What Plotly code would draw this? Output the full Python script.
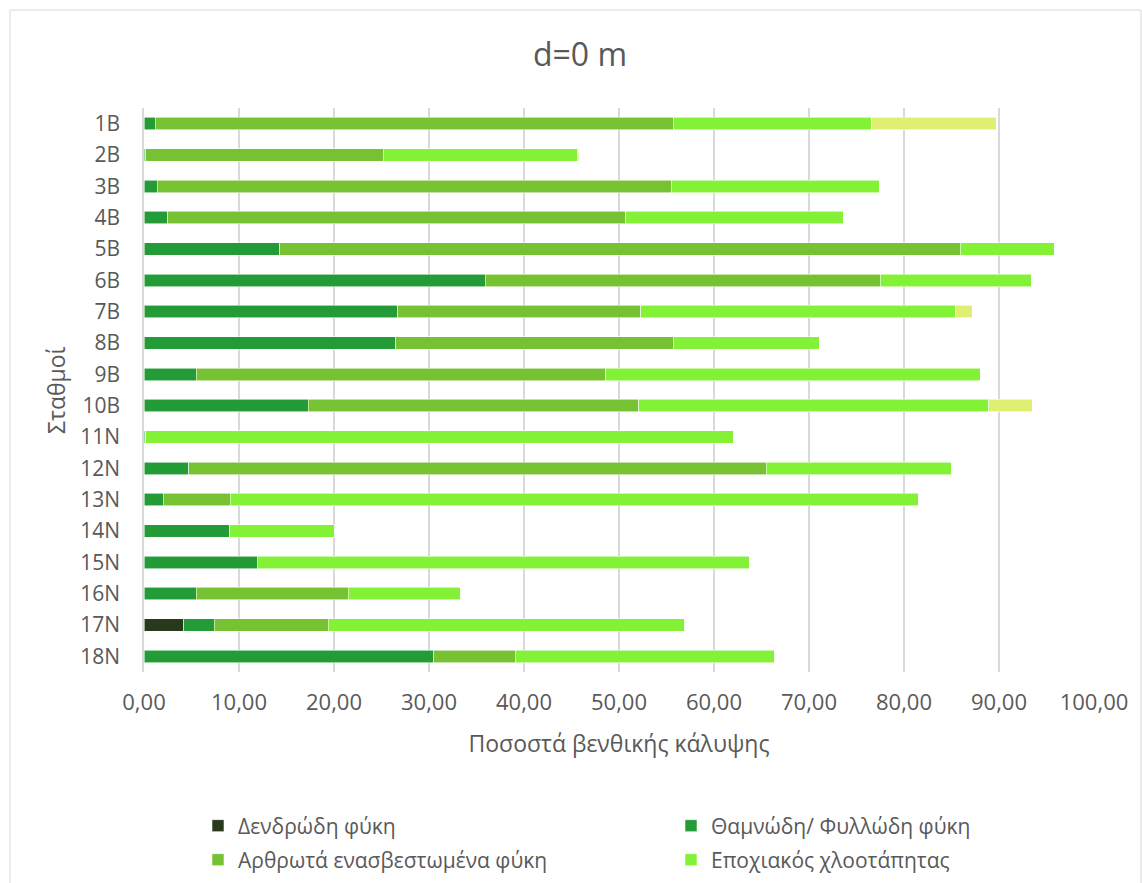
import plotly.graph_objects as go

# Stations (top to bottom) and benthic cover percentages per algal group
stations = ["1B", "2B", "3B", "4B", "5B", "6B", "7B", "8B", "9B", "10B",
            "11N", "12N", "13N", "14N", "15N", "16N", "17N", "18N"]

dendrodi = [0, 0, 0, 0, 0, 0, 0, 0, 0, 0,
            0, 0, 0, 0, 0, 0, 4.2, 0]
thamnodi = [1.2, 0.2, 1.4, 2.5, 14.3, 35.9, 26.7, 26.5, 5.5, 17.3,
            0.2, 4.7, 2.0, 9.0, 11.9, 5.5, 3.2, 30.5]
arthrota = [54.5, 25.0, 54.1, 48.2, 71.6, 41.6, 25.6, 29.2, 43.1, 34.8,
            0, 60.8, 7.1, 0, 0, 16.0, 12.0, 8.6]
epochiakos = [20.9, 20.4, 21.9, 22.9, 9.9, 15.9, 33.1, 15.4, 39.4, 36.8,
              61.8, 19.5, 72.4, 11.1, 51.8, 11.8, 37.5, 27.3]
loipa = [13.1, 0.15, 0, 0, 0, 0, 1.8, 0, 0, 4.6,
         0, 0, 0, 0, 0, 0, 0, 0]

tick_vals = [0, 10, 20, 30, 40, 50, 60, 70, 80, 90, 100]
tick_text = ["0,00", "10,00", "20,00", "30,00", "40,00", "50,00",
             "60,00", "70,00", "80,00", "90,00", "100,00"]

series = [
    ("Δενδρώδη φύκη", dendrodi, "#28391c", "legend"),
    ("Θαμνώδη/ Φυλλώδη φύκη", thamnodi, "#239b37", "legend2"),
    ("Αρθρωτά ενασβεστωμένα φύκη", arthrota, "#77c232", "legend3"),
    ("Εποχιακός χλοοτάπητας", epochiakos, "#83f135", "legend4"),
    ("Λοιπά", loipa, "#dfef72", None),
]

FONT = "Open Sans, Noto Sans, sans-serif"
GREY = "#595959"

fig = go.Figure()
for name, vals, color, leg in series:
    fig.add_trace(go.Bar(
        y=stations, x=vals, name=name, orientation="h",
        marker=dict(color=color, line=dict(color="rgba(255,255,255,0.7)", width=0.8)),
        showlegend=leg is not None,
        legend=leg if leg else "legend",
    ))

W, H = 1142, 883
L, R, T, B = 144, 48, 108, 211
pw, ph = W - L - R, H - T - B


def px_x(p):
    return (p - L) / pw


def px_y(p):
    return (H - B - p) / ph


legend_common = dict(font=dict(family=FONT, size=21, color=GREY),
                     bgcolor="rgba(0,0,0,0)", yanchor="middle", xanchor="left",
                     xref="container", yref="container")

fig.update_layout(
    width=W, height=H,
    margin=dict(l=L, r=R, t=T, b=B, autoexpand=False),
    paper_bgcolor="white", plot_bgcolor="white",
    barmode="stack", bargap=0.6,
    font=dict(family=FONT, color=GREY),
    title=dict(text="d=0 m", x=580 / W, xanchor="center", xref="container",
               y=1 - 55 / H, yanchor="middle", yref="container",
               font=dict(family=FONT, size=32, color=GREY)),
    xaxis=dict(range=[0, 100], tickvals=tick_vals, ticktext=tick_text,
               showgrid=True, gridcolor="#d9d9d9", gridwidth=1.5,
               zeroline=False, showline=False, ticks="", automargin=True,
               ticklabelstandoff=15,
               tickfont=dict(family=FONT, size=22, color=GREY),
               title=dict(text="Ποσοστά βενθικής κάλυψης", standoff=20,
                          font=dict(family=FONT, size=23, color=GREY))),
    yaxis=dict(autorange="reversed", showgrid=False, zeroline=False,
               showline=True, linecolor="#d9d9d9", linewidth=1.5,
               ticks="", ticklabelstandoff=18, automargin=True,
               tickfont=dict(family=FONT, size=21, color=GREY)),
    annotations=[dict(text="Σταθμοί", textangle=-90, showarrow=False,
                      xref="paper", yref="paper", x=px_x(56), y=0.5,
                      xanchor="center", yanchor="middle",
                      font=dict(family=FONT, size=23, color=GREY))],
    legend=dict(x=198 / W, y=1 - 826 / H, **legend_common),
    legend2=dict(x=671 / W, y=1 - 826 / H, **legend_common),
    legend3=dict(x=198 / W, y=1 - 860 / H, **legend_common),
    legend4=dict(x=671 / W, y=1 - 860 / H, **legend_common),
    shapes=[dict(type="rect", xref="paper", yref="paper",
                 x0=px_x(10), x1=px_x(1141), y0=px_y(10), y1=px_y(895),
                 line=dict(color="#d9d9d9", width=1), fillcolor="rgba(0,0,0,0)",
                 layer="below")],
)

fig.write_html("out.html")
